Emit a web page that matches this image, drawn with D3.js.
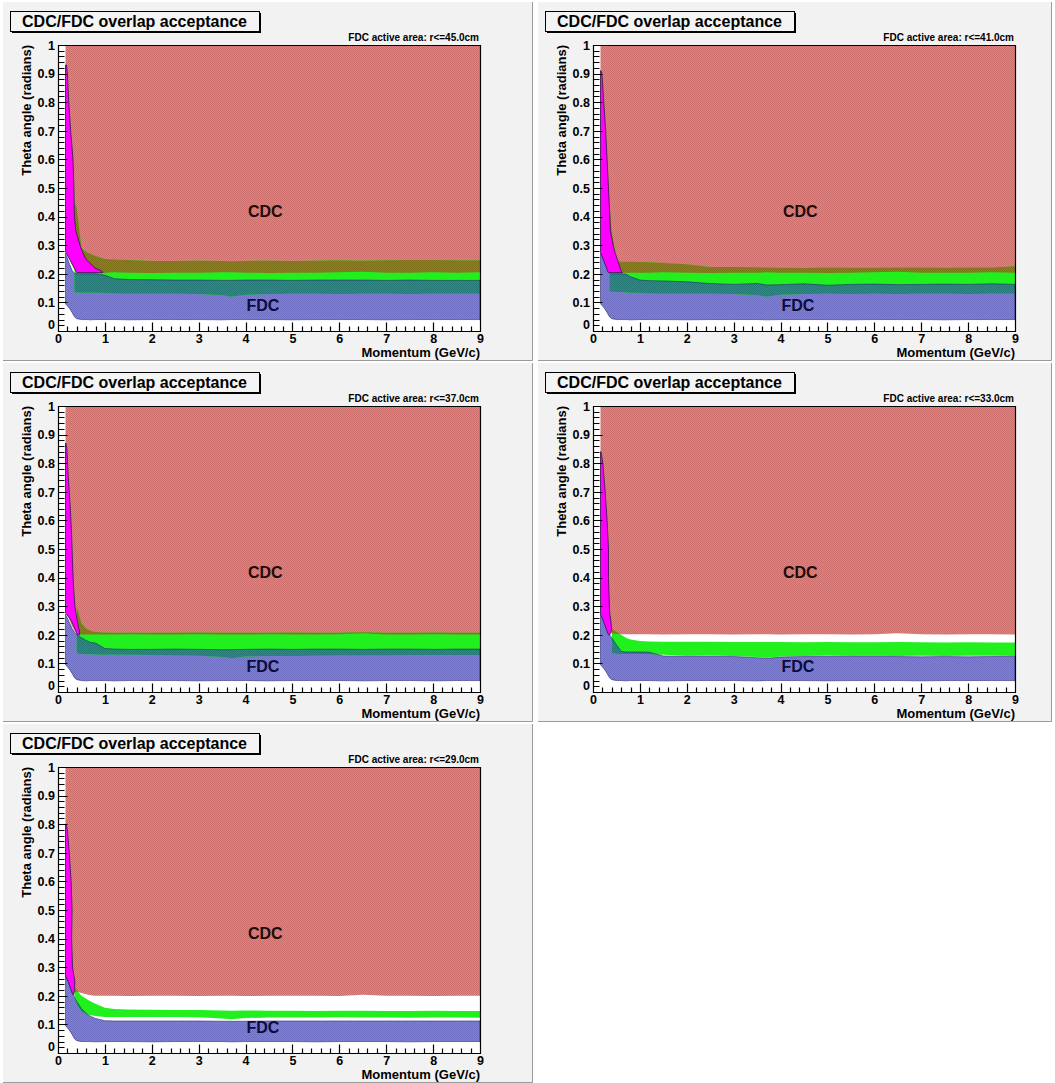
<!DOCTYPE html>
<html>
<head>
<meta charset="utf-8">
<script src="https://cdn.jsdelivr.net/npm/d3@7"></script>
<style>
body { margin: 0; background: #fff; }
svg { display: block; font-family: "Liberation Sans", Arial, sans-serif; }
</style>
</head>
<body>
<div id="chart"></div>
<script>
// momentum grid (GeV/c) shared by every panel
const momentum = [0.16, 0.2, 0.25, 0.3, 0.35, 0.4, 0.5, 0.6, 0.7, 0.8, 1.0, 1.2, 1.5, 2, 2.5, 3, 3.5, 3.7, 4, 4.5, 5, 5.5, 6, 6.5, 7, 7.5, 8, 8.5, 9];
const fdcRadius = ['45.0', '41.0', '37.0', '33.0', '29.0'];
const thetaTicks = [0, 0.1, 0.2, 0.3, 0.4, 0.5, 0.6, 0.7, 0.8, 0.9, 1];
const thetaLabels = ['0', '0.1', '0.2', '0.3', '0.4', '0.5', '0.6', '0.7', '0.8', '0.9', '1'];
const momentumTicks = [0, 1, 2, 3, 4, 5, 6, 7, 8, 9];

// lower edge of the CDC band (it runs up to theta = 1)
const cdcLow = [
    [0.28, 0.27, 0.25, 0.23, 0.215, 0.205, 0.204, 0.204, 0.204, 0.204, 0.204, 0.205, 0.204, 0.203, 0.204, 0.204, 0.205, 0.205, 0.204, 0.203, 0.204, 0.204, 0.205, 0.207, 0.204, 0.204, 0.205, 0.204, 0.205],
    [0.28, 0.27, 0.25, 0.23, 0.215, 0.205, 0.204, 0.204, 0.204, 0.204, 0.204, 0.204, 0.205, 0.204, 0.203, 0.204, 0.204, 0.205, 0.204, 0.204, 0.203, 0.204, 0.205, 0.207, 0.204, 0.204, 0.204, 0.205, 0.204],
    [0.28, 0.27, 0.25, 0.23, 0.215, 0.205, 0.201, 0.201, 0.201, 0.201, 0.201, 0.201, 0.202, 0.201, 0.201, 0.202, 0.201, 0.201, 0.201, 0.202, 0.201, 0.201, 0.202, 0.205, 0.201, 0.201, 0.202, 0.201, 0.201],
    [0.28, 0.27, 0.25, 0.23, 0.215, 0.205, 0.203, 0.202, 0.202, 0.202, 0.202, 0.202, 0.201, 0.202, 0.202, 0.201, 0.202, 0.202, 0.201, 0.202, 0.202, 0.201, 0.202, 0.205, 0.202, 0.201, 0.202, 0.202, 0.201],
    [0.27, 0.26, 0.24, 0.22, 0.21, 0.215, 0.21, 0.205, 0.202, 0.2, 0.2, 0.2, 0.199, 0.2, 0.2, 0.199, 0.2, 0.2, 0.199, 0.2, 0.2, 0.2, 0.199, 0.204, 0.2, 0.2, 0.199, 0.2, 0.2]
];

// overlap band (solid green), null where it is absent
const overlapHigh = [
    [null, null, null, null, 0.45, 0.43, 0.29, 0.277, 0.269, 0.262, 0.252, 0.25, 0.248, 0.245, 0.245, 0.246, 0.245, 0.244, 0.245, 0.246, 0.245, 0.246, 0.247, 0.246, 0.247, 0.248, 0.248, 0.247, 0.247],
    [null, null, null, null, 0.44, 0.35, 0.245, 0.242, 0.242, 0.242, 0.241, 0.24, 0.238, 0.233, 0.224, 0.224, 0.223, 0.222, 0.221, 0.22, 0.222, 0.221, 0.221, 0.222, 0.222, 0.221, 0.222, 0.222, 0.226],
    [null, null, null, null, null, 0.3, 0.24, 0.222, 0.213, 0.21, 0.208, 0.207, 0.207, 0.207, 0.207, 0.208, 0.207, 0.207, 0.207, 0.207, 0.208, 0.207, 0.207, 0.209, 0.207, 0.207, 0.208, 0.207, 0.207],
    [null, null, null, null, null, 0.22, 0.21, 0.2, 0.19, 0.184, 0.178, 0.177, 0.176, 0.176, 0.176, 0.175, 0.175, 0.175, 0.175, 0.174, 0.175, 0.174, 0.174, 0.175, 0.174, 0.173, 0.174, 0.173, 0.173],
    [null, null, null, null, 0.23, 0.22, 0.2, 0.19, 0.18, 0.172, 0.158, 0.154, 0.152, 0.151, 0.15, 0.15, 0.149, 0.148, 0.149, 0.148, 0.148, 0.147, 0.148, 0.148, 0.147, 0.147, 0.148, 0.147, 0.147]
];
const overlapLow = [
    [null, null, null, null, 0.135, 0.135, 0.134, 0.134, 0.134, 0.134, 0.133, 0.131, 0.13, 0.13, 0.13, 0.129, 0.125, 0.12, 0.127, 0.129, 0.13, 0.13, 0.129, 0.13, 0.13, 0.129, 0.13, 0.13, 0.13],
    [null, null, null, null, 0.137, 0.137, 0.136, 0.136, 0.135, 0.134, 0.133, 0.131, 0.13, 0.13, 0.13, 0.129, 0.125, 0.12, 0.127, 0.129, 0.13, 0.129, 0.13, 0.129, 0.13, 0.13, 0.129, 0.13, 0.13],
    [null, null, null, null, null, 0.135, 0.133, 0.132, 0.132, 0.131, 0.13, 0.13, 0.13, 0.129, 0.128, 0.127, 0.122, 0.118, 0.124, 0.126, 0.126, 0.127, 0.128, 0.128, 0.128, 0.129, 0.129, 0.129, 0.129],
    [null, null, null, null, null, 0.135, 0.134, 0.133, 0.133, 0.133, 0.133, 0.133, 0.13, 0.127, 0.127, 0.126, 0.122, 0.119, 0.124, 0.126, 0.127, 0.126, 0.127, 0.126, 0.127, 0.126, 0.127, 0.127, 0.126],
    [null, null, null, null, 0.2, 0.17, 0.145, 0.136, 0.132, 0.129, 0.126, 0.126, 0.126, 0.126, 0.126, 0.125, 0.121, 0.118, 0.122, 0.124, 0.124, 0.124, 0.125, 0.124, 0.124, 0.123, 0.124, 0.124, 0.123]
];

// FDC band
const fdcHigh = [
    [0.272, 0.255, 0.232, 0.212, 0.202, 0.2, 0.2, 0.2, 0.2, 0.2, 0.195, 0.183, 0.18, 0.179, 0.178, 0.178, 0.177, 0.177, 0.178, 0.178, 0.177, 0.178, 0.178, 0.178, 0.177, 0.178, 0.177, 0.177, 0.177],
    [0.272, 0.258, 0.238, 0.22, 0.205, 0.2, 0.2, 0.2, 0.198, 0.19, 0.178, 0.176, 0.175, 0.172, 0.166, 0.163, 0.166, 0.161, 0.162, 0.165, 0.16, 0.163, 0.164, 0.162, 0.163, 0.164, 0.163, 0.165, 0.163],
    [0.272, 0.258, 0.24, 0.222, 0.21, 0.2, 0.19, 0.18, 0.173, 0.171, 0.152, 0.15, 0.149, 0.149, 0.15, 0.149, 0.148, 0.148, 0.149, 0.15, 0.149, 0.15, 0.15, 0.149, 0.15, 0.15, 0.149, 0.15, 0.15],
    [0.272, 0.258, 0.238, 0.215, 0.2, 0.19, 0.165, 0.142, 0.14, 0.14, 0.14, 0.139, 0.126, 0.125, 0.124, 0.124, 0.12, 0.117, 0.122, 0.124, 0.124, 0.124, 0.125, 0.124, 0.123, 0.124, 0.123, 0.124, 0.124],
    [0.269, 0.255, 0.235, 0.215, 0.195, 0.18, 0.155, 0.138, 0.128, 0.121, 0.113, 0.112, 0.112, 0.112, 0.112, 0.112, 0.111, 0.111, 0.111, 0.112, 0.112, 0.112, 0.112, 0.112, 0.112, 0.112, 0.112, 0.112, 0.112]
];
const fdcLow = [
    [0.095, 0.088, 0.078, 0.065, 0.05, 0.043, 0.04, 0.04, 0.039, 0.04, 0.04, 0.04, 0.039, 0.04, 0.04, 0.04, 0.039, 0.04, 0.04, 0.04, 0.039, 0.04, 0.04, 0.04, 0.039, 0.04, 0.04, 0.04, 0.04],
    [0.095, 0.088, 0.078, 0.065, 0.05, 0.043, 0.04, 0.04, 0.04, 0.039, 0.04, 0.04, 0.04, 0.039, 0.04, 0.04, 0.04, 0.039, 0.04, 0.04, 0.04, 0.039, 0.04, 0.04, 0.04, 0.039, 0.04, 0.04, 0.04],
    [0.095, 0.088, 0.078, 0.065, 0.05, 0.043, 0.04, 0.039, 0.04, 0.04, 0.04, 0.039, 0.04, 0.04, 0.04, 0.039, 0.04, 0.04, 0.04, 0.039, 0.04, 0.04, 0.04, 0.039, 0.04, 0.04, 0.039, 0.04, 0.04],
    [0.095, 0.088, 0.078, 0.065, 0.05, 0.043, 0.04, 0.04, 0.039, 0.04, 0.04, 0.04, 0.039, 0.04, 0.04, 0.04, 0.039, 0.04, 0.04, 0.04, 0.039, 0.04, 0.04, 0.04, 0.039, 0.04, 0.04, 0.04, 0.04],
    [0.095, 0.088, 0.078, 0.065, 0.05, 0.043, 0.04, 0.04, 0.04, 0.039, 0.04, 0.04, 0.04, 0.039, 0.04, 0.04, 0.04, 0.039, 0.04, 0.04, 0.04, 0.039, 0.04, 0.04, 0.04, 0.039, 0.04, 0.04, 0.04]
];

// low-momentum (magenta) region, given as momentum limits per theta
const lowPTheta = [
    [0.204, 0.21, 0.22, 0.25, 0.277, 0.3, 0.35, 0.4, 0.5, 0.6, 0.7, 0.8, 0.9, 0.93],
    [0.204, 0.21, 0.22, 0.25, 0.274, 0.3, 0.35, 0.4, 0.5, 0.6, 0.7, 0.8, 0.9, 0.91],
    [0.2, 0.21, 0.25, 0.277, 0.3, 0.37, 0.45, 0.55, 0.65, 0.75, 0.85, 0.87],
    [0.2, 0.22, 0.25, 0.272, 0.3, 0.4, 0.5, 0.6, 0.7, 0.8, 0.84],
    [0.205, 0.22, 0.25, 0.269, 0.3, 0.4, 0.5, 0.6, 0.7, 0.78, 0.8]
];
const lowPMin = [
    [0.40, 0.38, 0.35, 0.25, 0.16, 0.16, 0.16, 0.16, 0.16, 0.16, 0.16, 0.16, 0.16, 0.16],
    [0.33, 0.31, 0.29, 0.22, 0.16, 0.16, 0.16, 0.16, 0.16, 0.16, 0.16, 0.16, 0.16, 0.16],
    [0.41, 0.39, 0.28, 0.16, 0.16, 0.16, 0.16, 0.16, 0.16, 0.16, 0.16, 0.16],
    [0.33, 0.28, 0.22, 0.16, 0.16, 0.16, 0.16, 0.16, 0.16, 0.16, 0.16],
    [0.31, 0.28, 0.22, 0.16, 0.16, 0.16, 0.16, 0.16, 0.16, 0.16, 0.16]
];
const lowPMax = [
    [0.96, 0.93, 0.79, 0.60, 0.52, 0.47, 0.38, 0.35, 0.34, 0.32, 0.27, 0.23, 0.2, 0.18],
    [0.63, 0.6, 0.58, 0.52, 0.47, 0.43, 0.37, 0.36, 0.33, 0.3, 0.27, 0.23, 0.19, 0.17],
    [0.46, 0.46, 0.41, 0.38, 0.36, 0.33, 0.31, 0.29, 0.26, 0.22, 0.19, 0.17],
    [0.36, 0.4, 0.38, 0.36, 0.35, 0.33, 0.33, 0.3, 0.26, 0.21, 0.17],
    [0.33, 0.35, 0.36, 0.34, 0.31, 0.29, 0.3, 0.28, 0.24, 0.2, 0.17]
];

const W = 1055, H = 1083;
const svg = d3.select('#chart').append('svg')
    .attr('width', W)
    .attr('height', H);

const defs = svg.append('defs');

// fine two-tone checker to mimic the ROOT hatch texture
function addPattern(id, a, b) {
    const p = defs.append('pattern')
        .attr('id', id)
        .attr('patternUnits', 'userSpaceOnUse')
        .attr('width', 2)
        .attr('height', 2);
    p.append('rect').attr('width', 2).attr('height', 2).attr('fill', a);
    p.append('rect').attr('width', 1).attr('height', 1).attr('fill', b);
    p.append('rect').attr('x', 1).attr('y', 1).attr('width', 1).attr('height', 1).attr('fill', b);
}
addPattern('pat-cdc', '#dc8886', '#c96c6a');
addPattern('pat-olive', '#8f802c', '#7c6f18');
addPattern('pat-fdc', '#8383d2', '#6d6dc2');
addPattern('pat-teal', '#338c88', '#237876');

const font = '"Liberation Sans", Arial, sans-serif';
const thetaMinor = d3.range(0, 51).map(k => k / 50).filter((v, k) => k % 5 !== 0);
const momentumMinor = d3.range(0, 46).map(k => k / 5).filter((v, k) => k % 5 !== 0);

fdcRadius.forEach((radius, i) => {
    const col = i % 2, row = Math.floor(i / 2);
    const padX = col === 0 ? 3 : 538;
    const padW = col === 0 ? 530 : 514;
    const padY = 2 + row * 361;
    const padH = 359;

    const pad = svg.append('g');
    pad.append('rect')
        .attr('x', padX).attr('y', padY)
        .attr('width', padW).attr('height', padH)
        .attr('fill', '#f2f2f2');
    pad.append('path')
        .attr('d', `M${padX + padW - 0.5},${padY}V${padY + padH - 0.5}H${padX}`)
        .attr('fill', 'none')
        .attr('stroke', '#9a9a9a');

    const left = padX + 55, right = padX + 477;
    const top = padY + 43, bottom = padY + 329;

    const x = d3.scaleLinear().domain([0, 9]).range([left, right]);
    const y = d3.scaleLinear().domain([0, 1]).range([bottom, top]);

    const pts = momentum.map((p, j) => ({
        p: p,
        cl: cdcLow[i][j],
        gh: overlapHigh[i][j],
        gl: overlapLow[i][j],
        fh: fdcHigh[i][j],
        fl: fdcLow[i][j]
    }));
    const lowP = lowPTheta[i].map((t, j) => ({t: t, a: lowPMin[i][j], b: lowPMax[i][j]}));

    const cdcArea = d3.area().x(d => x(d.p)).y0(d => y(d.cl)).y1(y(1));
    const overlapArea = d3.area().defined(d => d.gh != null)
        .x(d => x(d.p)).y0(d => y(d.gl)).y1(d => y(d.gh));
    const fdcArea = d3.area().x(d => x(d.p)).y0(d => y(d.fl)).y1(d => y(d.fh));
    const lowPArea = d3.area().y(d => y(d.t)).x0(d => x(d.a)).x1(d => x(d.b));

    defs.append('clipPath').attr('id', `clip-cdc-${i}`)
        .append('path').attr('d', cdcArea(pts));
    defs.append('clipPath').attr('id', `clip-fdc-${i}`)
        .append('path').attr('d', fdcArea(pts));

    const g = svg.append('g');

    g.append('rect')
        .attr('x', left).attr('y', top)
        .attr('width', right - left).attr('height', bottom - top)
        .attr('fill', '#ffffff');

    g.append('path').attr('d', cdcArea(pts)).attr('fill', 'url(#pat-cdc)');
    g.append('path').attr('d', fdcArea(pts)).attr('fill', 'url(#pat-fdc)');
    g.append('path').attr('d', overlapArea(pts)).attr('fill', '#22f01e');
    g.append('path').attr('d', overlapArea(pts))
        .attr('fill', 'url(#pat-olive)')
        .attr('clip-path', `url(#clip-cdc-${i})`);
    g.append('path').attr('d', overlapArea(pts))
        .attr('fill', 'url(#pat-teal)')
        .attr('clip-path', `url(#clip-fdc-${i})`);
    g.append('path').attr('d', fdcArea(pts))
        .attr('fill', 'none')
        .attr('stroke', '#20206e')
        .attr('stroke-width', 0.8)
        .attr('stroke-opacity', 0.7);

    g.append('path').attr('d', lowPArea(lowP))
        .attr('fill', '#ff00ff')
        .attr('stroke', '#301848')
        .attr('stroke-width', 0.8);

    // region labels
    g.append('text')
        .attr('x', x(4.42)).attr('y', y(0.4))
        .attr('text-anchor', 'middle')
        .style('font', `bold 16px ${font}`)
        .attr('fill', '#1a0c0c')
        .text('CDC');
    g.append('text')
        .attr('x', x(4.37)).attr('y', y(0.07))
        .attr('text-anchor', 'middle')
        .style('font', `bold 16px ${font}`)
        .attr('fill', '#0c0c3c')
        .text('FDC');

    // frame outline and inward tick marks as one stroked path
    const L = Math.round(left) + 0.5, B = Math.round(bottom) + 0.5;
    let d = `M${L},${Math.round(top) + 0.5}H${Math.round(right) + 0.5}V${B}H${L}Z`;
    thetaTicks.forEach(v => { d += `M${L},${Math.round(y(v)) + 0.5}h9`; });
    thetaMinor.forEach(v => { d += `M${L},${Math.round(y(v)) + 0.5}h6`; });
    momentumTicks.forEach(v => { d += `M${Math.round(x(v)) + 0.5},${B}v-9`; });
    momentumMinor.forEach(v => { d += `M${Math.round(x(v)) + 0.5},${B}v-5`; });
    g.append('path')
        .attr('d', d)
        .attr('fill', 'none')
        .attr('stroke', '#000')
        .attr('stroke-width', 1.2);

    // tick labels from the library axes
    const yAxis = g.append('g')
        .attr('transform', `translate(${left},0)`)
        .call(d3.axisLeft(y).tickValues(thetaTicks).tickSize(0).tickPadding(3)
            .tickFormat((d, k) => thetaLabels[k]));
    yAxis.select('.domain').remove();
    yAxis.selectAll('text')
        .style('font', `bold 12.5px ${font}`)
        .attr('fill', '#000')
        .attr('dy', d => d === 0 ? '-0.2em' : '0.34em');

    const xAxis = g.append('g')
        .attr('transform', `translate(0,${bottom})`)
        .call(d3.axisBottom(x).tickValues(momentumTicks).tickSize(0).tickPadding(3.5));
    xAxis.select('.domain').remove();
    xAxis.selectAll('text')
        .style('font', `bold 12.5px ${font}`)
        .attr('fill', '#000');

    // axis titles
    g.append('text')
        .attr('transform', `translate(${left - 27},${top}) rotate(-90)`)
        .attr('text-anchor', 'end')
        .style('font', `bold 13px ${font}`)
        .text('Theta angle (radians)');
    g.append('text')
        .attr('x', right).attr('y', bottom + 26)
        .attr('text-anchor', 'end')
        .style('font', `bold 13px ${font}`)
        .text('Momentum (GeV/c)');

    g.append('text')
        .attr('x', right - 1).attr('y', top - 4)
        .attr('text-anchor', 'end')
        .style('font', `bold 10px ${font}`)
        .text(`FDC active area: r<=${radius}cm`);

    // title box with shadow
    const tb = {x: padX + 7, y: padY + 9, w: 249, h: 20};
    g.append('rect')
        .attr('x', tb.x + 2).attr('y', tb.y + 2)
        .attr('width', tb.w).attr('height', tb.h)
        .attr('fill', '#000');
    g.append('rect')
        .attr('x', tb.x + 0.5).attr('y', tb.y + 0.5)
        .attr('width', tb.w).attr('height', tb.h)
        .attr('fill', '#f4f4f4')
        .attr('stroke', '#000');
    g.append('text')
        .attr('x', tb.x + tb.w / 2).attr('y', tb.y + 16)
        .attr('text-anchor', 'middle')
        .style('font', `bold 16px ${font}`)
        .text('CDC/FDC overlap acceptance');
});
</script>
</body>
</html>
